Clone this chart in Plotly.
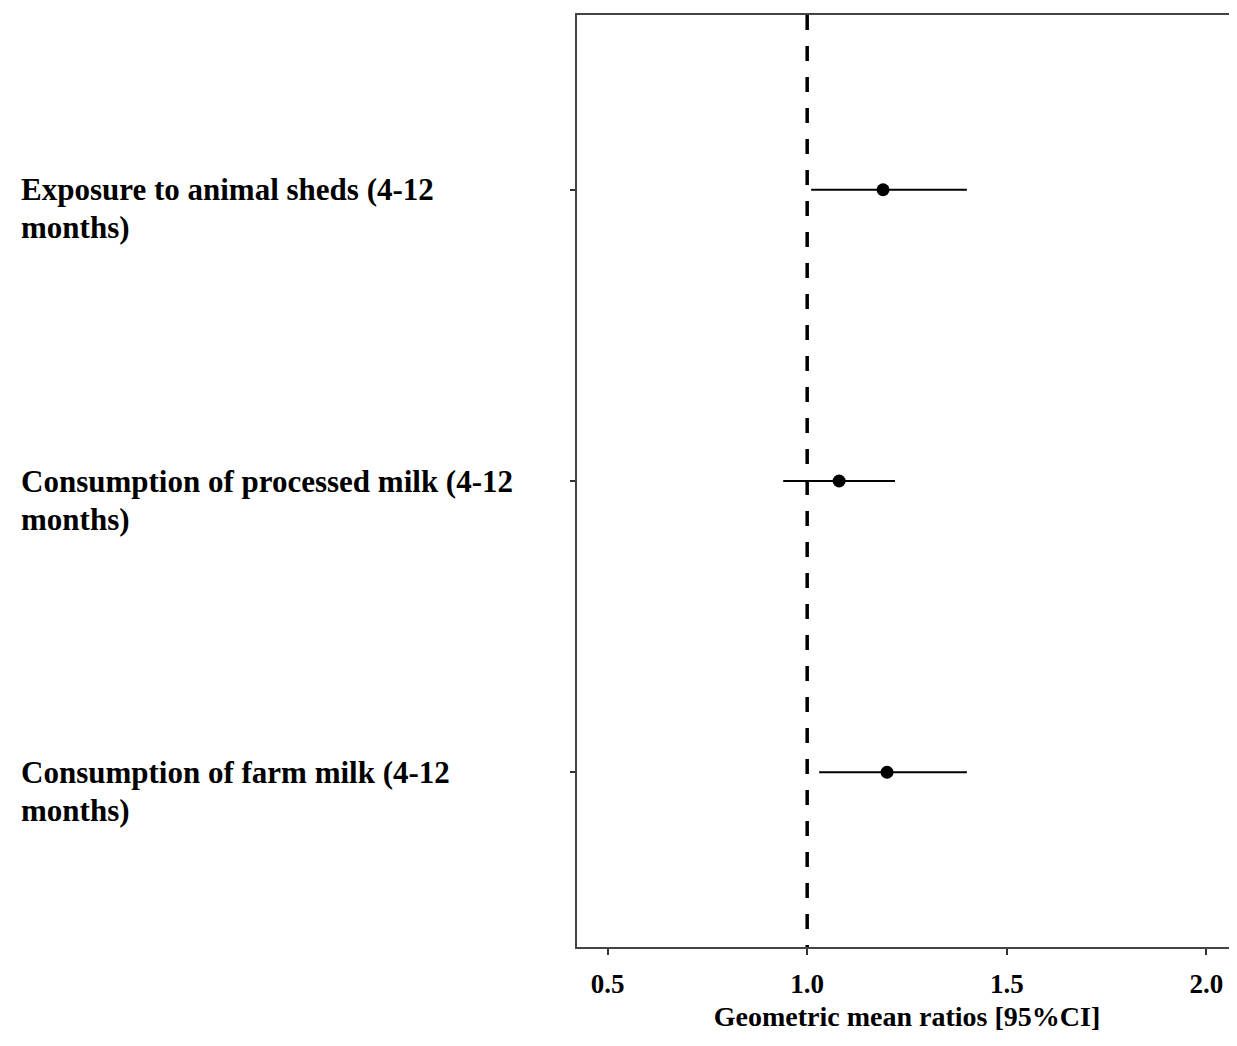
import plotly.graph_objects as go

# Data (top-to-bottom order as shown)
labels = [
    "Exposure to animal sheds (4-12<br>months)",
    "Consumption of processed milk (4-12<br>months)",
    "Consumption of farm milk (4-12<br>months)",
]
gmr = [1.19, 1.08, 1.20]
ci_low = [1.01, 0.94, 1.03]
ci_high = [1.40, 1.22, 1.40]
x_ticks = [0.5, 1.0, 1.5, 2.0]
x_tick_text = ["0.5", "1.0", "1.5", "2.0"]
ref_value = 1.0

FONT = "Liberation Serif"

# Page body has an 8px margin; size the figure to fit the window.
W, H = 1229, 1038
L, R, T, B = 569, 0, 6.5, 99

fig = go.Figure()
fig.add_trace(go.Scatter(
    x=gmr,
    y=labels,
    mode="markers",
    marker=dict(color="black", size=13, symbol="circle"),
    error_x=dict(
        type="data",
        symmetric=False,
        array=[h - m for h, m in zip(ci_high, gmr)],
        arrayminus=[m - l for m, l in zip(gmr, ci_low)],
        color="black",
        thickness=2,
        width=0,
    ),
    showlegend=False,
))

fig.add_shape(
    type="line", xref="x", yref="paper",
    x0=ref_value, x1=ref_value, y0=1, y1=0,
    line=dict(color="black", width=3.5, dash="15px,16px"),
    layer="above",
)

plot_w = W - L - R
label_x = (11 - L) / plot_w
for lab in labels:
    for i, line in enumerate(lab.split("<br>")):
        fig.add_annotation(
            x=label_x, xref="paper", xanchor="left",
            y=lab, yref="y", yanchor="middle", yshift=-38 * i,
            text=line, showarrow=False, align="left",
            font=dict(family=FONT, size=31, color="black", weight="bold"),
        )

fig.update_xaxes(
    range=[0.4235, 2.0765],
    tickvals=x_ticks, ticktext=x_tick_text,
    ticks="outside", ticklen=6, tickwidth=1.5, tickcolor="#333333",
    tickfont=dict(family=FONT, size=27, color="black", weight="bold"),
    ticklabelstandoff=6,
    showgrid=False, zeroline=False,
    showline=True, linecolor="#444444", linewidth=1.5, mirror=True,
    title=dict(text="Geometric mean ratios [95%CI]", standoff=8,
               font=dict(family=FONT, size=28, color="black", weight="bold")),
)
fig.update_yaxes(
    categoryorder="array", categoryarray=labels[::-1],
    range=[-0.6, 2.6],
    showticklabels=False,
    ticks="outside", ticklen=5, tickwidth=1.5, tickcolor="#333333",
    showgrid=False, zeroline=False,
    showline=True, linecolor="#444444", linewidth=1.5, mirror=True,
)

fig.update_layout(
    width=W, height=H,
    margin=dict(l=L, r=R, t=T, b=B, autoexpand=False),
    plot_bgcolor="white", paper_bgcolor="white",
)

fig.write_html("out.html")
